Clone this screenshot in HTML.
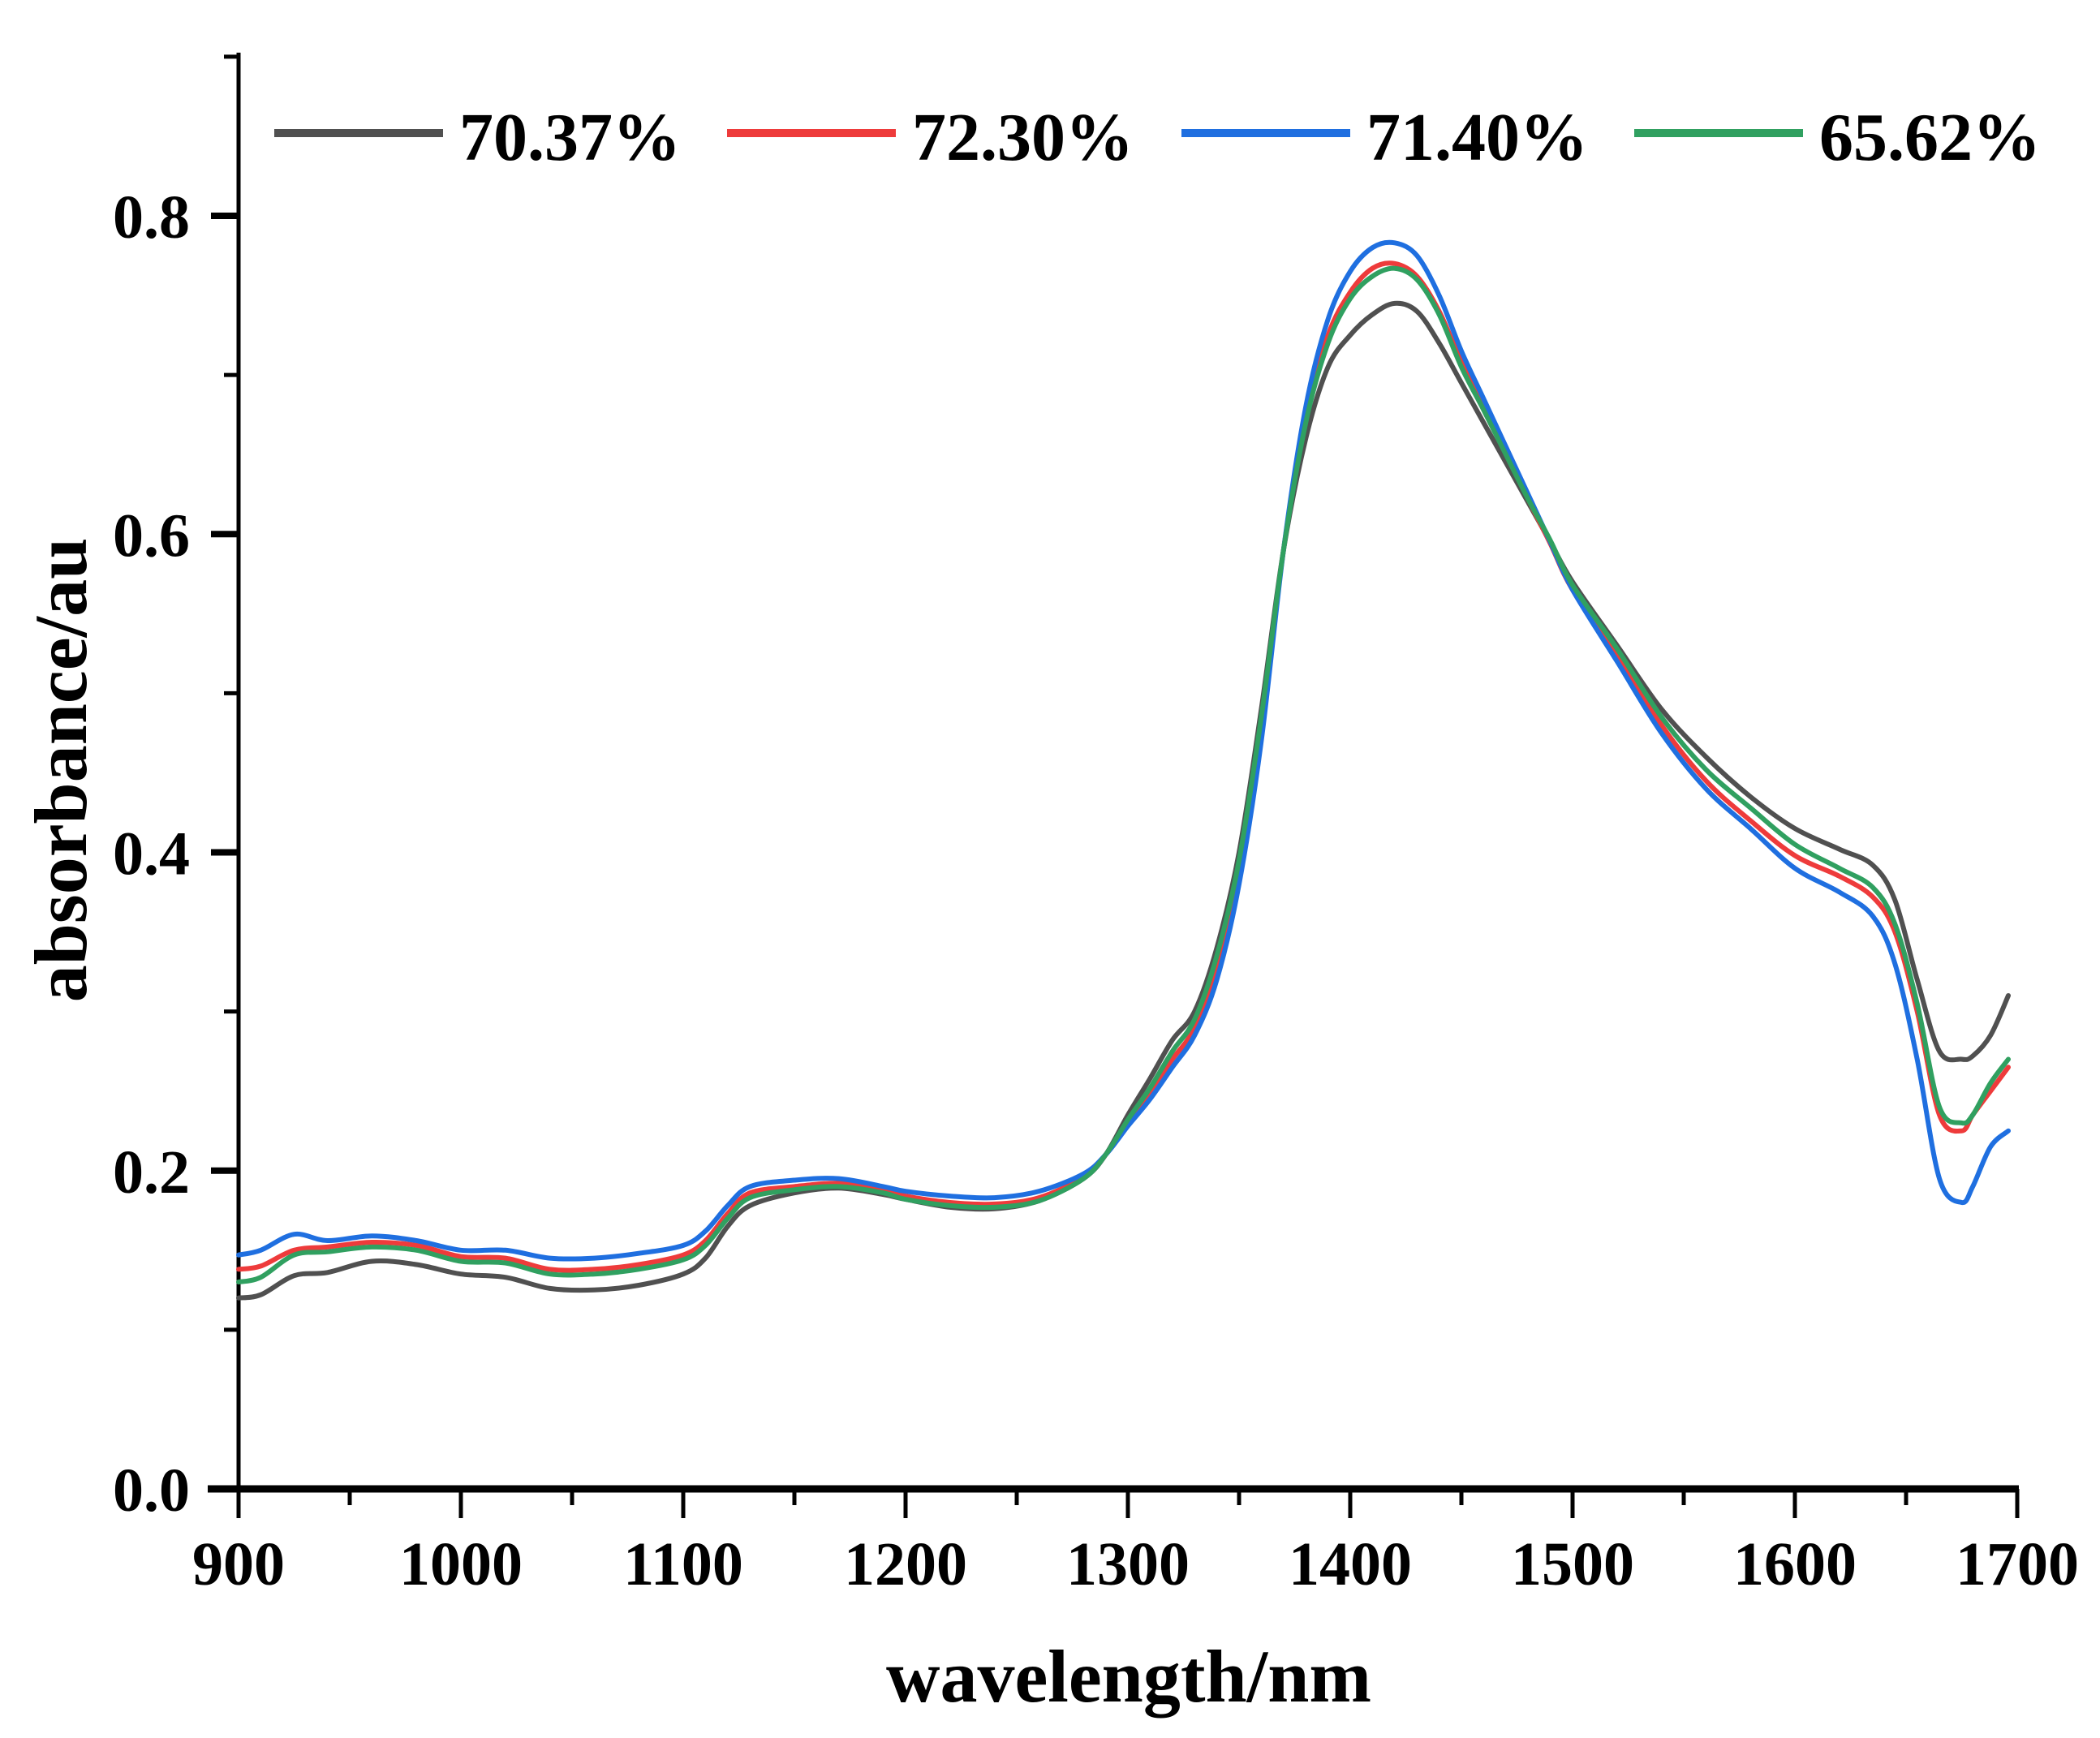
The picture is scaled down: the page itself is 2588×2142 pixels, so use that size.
<!DOCTYPE html>
<html><head><meta charset="utf-8"><style>
html,body{margin:0;padding:0;background:#fff;}
svg{display:block;}
text{font-family:"Liberation Serif",serif;font-weight:bold;fill:#000;}
</style></head><body>
<svg id="chart" width="2588" height="2142" viewBox="0 0 2588 2142" xmlns="http://www.w3.org/2000/svg">
<g id="axes"></g>
<g id="series"></g>
<g id="legend"></g>
<text x="1391" y="2097" font-size="92" text-anchor="middle">wavelength/nm</text>
<text x="0" y="0" font-size="92" text-anchor="middle" transform="translate(106,949) rotate(-90)">absorbance/au</text>
</svg>
<script>
const wavelengths=[900,910,925,940,960,980,1000,1020,1040,1060,1080,1100,1110,1120,1130,1150,1170,1190,1200,1220,1240,1260,1280,1290,1300,1310,1320,1330,1340,1350,1360,1370,1380,1390,1400,1410,1420,1430,1440,1450,1460,1470,1480,1490,1500,1520,1540,1560,1580,1600,1620,1635,1645,1655,1665,1675,1680,1688,1696];
const seriesGray=[.12,.122,.134,.136,.143,.141,.135,.133,.126,.125,.128,.135,.145,.165,.178,.186,.189,.185,.182,.177,.176,.181,.195,.21,.235,.258,.282,.3,.34,.4,.49,.59,.66,.705,.725,.738,.745,.74,.72,.695,.67,.645,.62,.595,.57,.53,.49,.46,.435,.415,.402,.392,.37,.32,.275,.27,.272,.285,.31];
const seriesRed=[.138,.14,.15,.152,.155,.153,.146,.145,.138,.138,.141,.147,.156,.173,.186,.19,.192,.188,.184,.18,.179,.183,.196,.21,.23,.25,.27,.29,.33,.39,.48,.59,.675,.725,.752,.767,.77,.762,.74,.708,.68,.652,.622,.594,.565,.525,.48,.445,.42,.398,.385,.372,.35,.3,.235,.225,.235,.25,.265];
const seriesBlue=[.147,.15,.16,.156,.159,.156,.15,.15,.145,.145,.148,.153,.162,.178,.19,.194,.195,.19,.187,.184,.183,.187,.198,.21,.228,.245,.265,.285,.32,.38,.47,.59,.68,.735,.765,.78,.783,.775,.75,.715,.685,.655,.625,.595,.565,.52,.475,.44,.415,.39,.375,.36,.33,.27,.195,.18,.19,.215,.225];
const seriesGreen=[.13,.133,.147,.149,.152,.15,.143,.142,.135,.135,.138,.144,.153,.17,.183,.188,.19,.186,.182,.178,.177,.181,.195,.21,.232,.252,.275,.295,.335,.395,.485,.59,.67,.72,.748,.762,.767,.76,.738,.705,.678,.65,.622,.596,.568,.528,.485,.452,.428,.405,.39,.378,.355,.305,.24,.23,.235,.255,.27];
const seriesNames=["70.37%","72.30%","71.40%","65.62%"];
const xTicks=[900,1000,1100,1200,1300,1400,1500,1600,1700];
const yTicks=[0.0,0.2,0.4,0.6,0.8];

const NS="http://www.w3.org/2000/svg";
const X0=294,X1=2486,Y0=1835,Y08=266;
function xs(v){return X0+(v-900)/800*(X1-X0);}
function ys(v){return Y0-v/0.8*(Y0-Y08);}
function mk(tag,attrs,parent){const e=document.createElementNS(NS,tag);for(const k in attrs)e.setAttribute(k,attrs[k]);parent.appendChild(e);return e;}
function smoothPath(p){
  let d='M'+p[0][0].toFixed(1)+','+p[0][1].toFixed(1);
  for(let i=0;i<p.length-1;i++){
    const p0=p[Math.max(i-1,0)],p1=p[i],p2=p[i+1],p3=p[Math.min(i+2,p.length-1)];
    const c1x=p1[0]+(p2[0]-p0[0])/6,c1y=p1[1]+(p2[1]-p0[1])/6;
    const c2x=p2[0]-(p3[0]-p1[0])/6,c2y=p2[1]-(p3[1]-p1[1])/6;
    d+=' C'+c1x.toFixed(1)+','+c1y.toFixed(1)+' '+c2x.toFixed(1)+','+c2y.toFixed(1)+' '+p2[0].toFixed(1)+','+p2[1].toFixed(1);
  }
  return d;
}
const axes=document.getElementById('axes');
let e;
e=mk('line',{x1:X0,y1:ys(0.9)-5,x2:X0,y2:Y0,stroke:'#000','stroke-width':5},axes);


e=mk('line',{x1:256,y1:Y0,x2:X1+2,y2:Y0,stroke:'#000','stroke-width':9},axes);


for(let v=900;v<=1700;v+=50){
  const major=(v%100===0);
  e=mk('line',{x1:xs(v),y1:Y0,x2:xs(v),y2:Y0+(major?36:20),stroke:'#000','stroke-width':5},axes);
  
  
}
xTicks.forEach(v=>{
  e=mk('text',{x:xs(v),y:1953,'font-size':76,'text-anchor':'middle'},axes);
  e.textContent=String(v);
  
  
});
for(let i=0;i<=9;i++){
  const v=i/10;const major=(i%2===0);
  e=mk('line',{x1:X0-(major?34:18),y1:ys(v),x2:X0,y2:ys(v),stroke:'#000','stroke-width':major?8:5},axes);
  
  
}
yTicks.forEach(v=>{
  e=mk('text',{x:234,y:ys(v)+27,'font-size':76,'text-anchor':'end'},axes);
  e.textContent=v.toFixed(1);
  
  
});
const sg=document.getElementById('series');
const all=[seriesGray,seriesRed,seriesBlue,seriesGreen];
const colors=['#505050','#ee3b3b','#1f6fe0','#30a060'];
const snames=['series-70-37','series-72-30','series-71-40','series-65-62'];
all.forEach((arr,i)=>{
  const pts=arr.map((v,j)=>[xs(wavelengths[j]),ys(v)]);
  e=mk('path',{d:smoothPath(pts),fill:'none',stroke:colors[i],'stroke-width':6,'stroke-linejoin':'round','stroke-linecap':'round'},sg);
  
  
});
const lg=document.getElementById('legend');
const lx=[338,896,1456,2014];
seriesNames.forEach((n,i)=>{
  e=mk('line',{x1:lx[i],y1:164,x2:lx[i]+208,y2:164,stroke:colors[i],'stroke-width':10},lg);
  
  
  e=mk('text',{x:lx[i]+228,y:197,'font-size':84},lg);
  e.textContent=n;
  
  
});
</script>
</body></html>
